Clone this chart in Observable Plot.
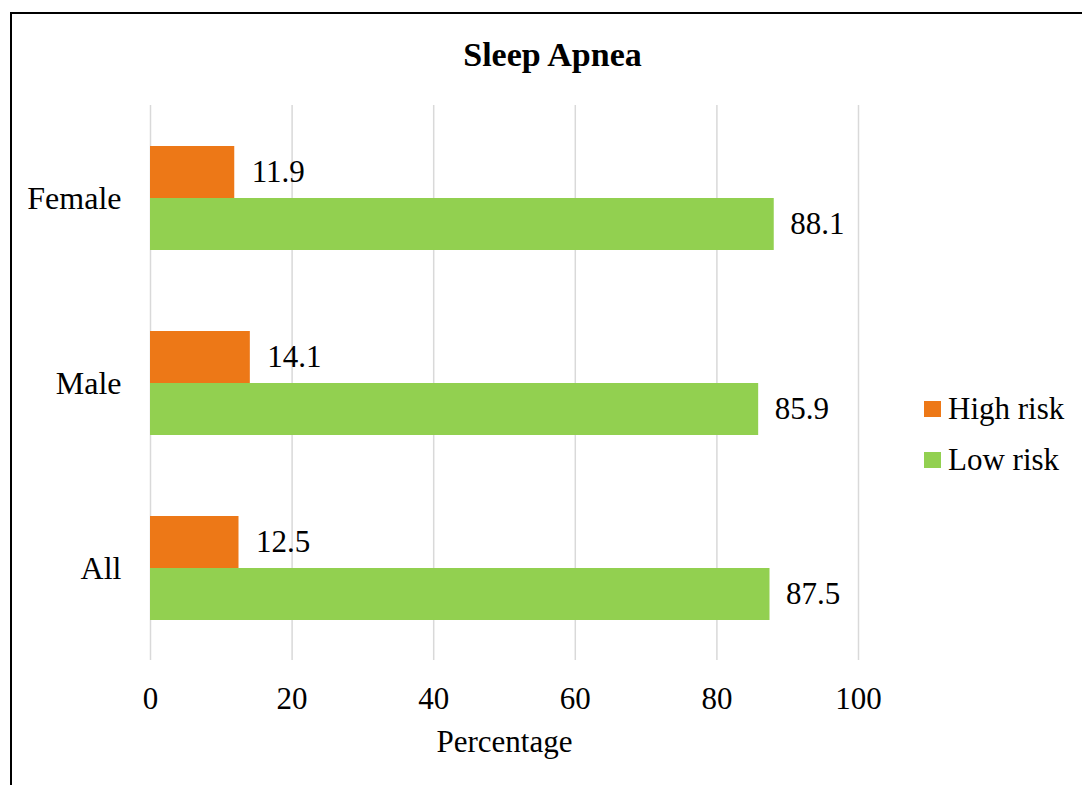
<!DOCTYPE html>
<html>
<head>
<meta charset="utf-8">
<script src="https://cdn.jsdelivr.net/npm/d3@7"></script>
<script src="https://cdn.jsdelivr.net/npm/@observablehq/plot@0.6"></script>
<style>
  body { margin: 0; background: #fff; }
  #wrap { position: relative; width: 1082px; height: 785px; overflow: hidden;
          font-family: "Liberation Serif", "Times New Roman", serif; color: #000; }
  #border { position: absolute; left: 10px; top: 12px; width: 3000px; height: 3000px;
            border-top: 2px solid #000; border-left: 2px solid #000; }
  #title { position: absolute; left: 0; top: 38px; width: 1105px; text-align: center;
           font-size: 34px; line-height: 34px; font-weight: bold; }
  #chart { position: absolute; left: 0; top: 90px; }
  .item { position: absolute; left: 924px; font-size: 31px; line-height: 31px; }
  .swatch { position: absolute; left: 0; width: 17px; height: 16px; }
  .item span.lbl { position: absolute; left: 24px; white-space: nowrap; }
</style>
</head>
<body>
<div id="wrap">
  <div id="border"></div>
  <div id="title">Sleep Apnea</div>
  <div id="chart"></div>
  <div id="legend"></div>
</div>
<script>
// Sleep apnea risk by group (percent)
const categories = ["Female", "Male", "All"];
const highRisk = [11.9, 14.1, 12.5];
const lowRisk = [88.1, 85.9, 87.5];
const xTicks = [0, 20, 40, 60, 80, 100];
const seriesNames = ["High risk", "Low risk"];
const seriesColors = ["#ED7817", "#92D050"];
const axisTitle = "Percentage";

const high = categories.map((c, i) => ({category: c, series: seriesNames[0], value: highRisk[i]}));
const low = categories.map((c, i) => ({category: c, series: seriesNames[1], value: lowRisk[i]}));

const fs = 31;

const chart = Plot.plot({
  width: 1082,
  height: 695,
  marginLeft: 150,
  marginRight: 224,
  marginTop: 15,
  marginBottom: 125,
  style: {fontFamily: '"Liberation Serif", "Times New Roman", serif', fontSize: fs + "px", color: "#000", background: "transparent", overflow: "visible"},
  x: {domain: [0, 100]},
  y: {domain: categories, paddingInner: 0.438, paddingOuter: 0.219},
  marks: [
    Plot.ruleX(xTicks, {stroke: "#d9d9d9", strokeWidth: 1.5}),
    Plot.barX(high, {x: "value", y: "category", fill: seriesColors[0], insetBottom: 52}),
    Plot.barX(low, {x: "value", y: "category", fill: seriesColors[1], insetTop: 52}),
    Plot.text(high, {x: "value", y: "category", text: d => d.value.toFixed(1), textAnchor: "start", dx: 17, dy: -26, fontSize: fs, fill: "#000"}),
    Plot.text(low, {x: "value", y: "category", text: d => d.value.toFixed(1), textAnchor: "start", dx: 16, dy: 26, fontSize: fs, fill: "#000"}),
    Plot.axisX({ticks: xTicks, tickSize: 0, tickPadding: 26, label: null, fontSize: fs}),
    Plot.axisY({tickSize: 0, tickPadding: 29, label: null, fontSize: 32}),
    Plot.text([axisTitle], {frameAnchor: "bottom", dy: 91, fontSize: fs, fill: "#000"})
  ]
});
document.getElementById("chart").appendChild(chart);

// legend
const legend = document.getElementById("legend");
seriesNames.forEach((name, i) => {
  const item = document.createElement("div");
  item.className = "item";
  item.style.top = (393 + i * 51) + "px";
  const sw = document.createElement("div");
  sw.className = "swatch";
  sw.style.background = seriesColors[i];
  sw.style.top = "8px";
  const lbl = document.createElement("span");
  lbl.className = "lbl";
  lbl.textContent = name;
  item.appendChild(sw);
  item.appendChild(lbl);
  legend.appendChild(item);
});
</script>
</body>
</html>
